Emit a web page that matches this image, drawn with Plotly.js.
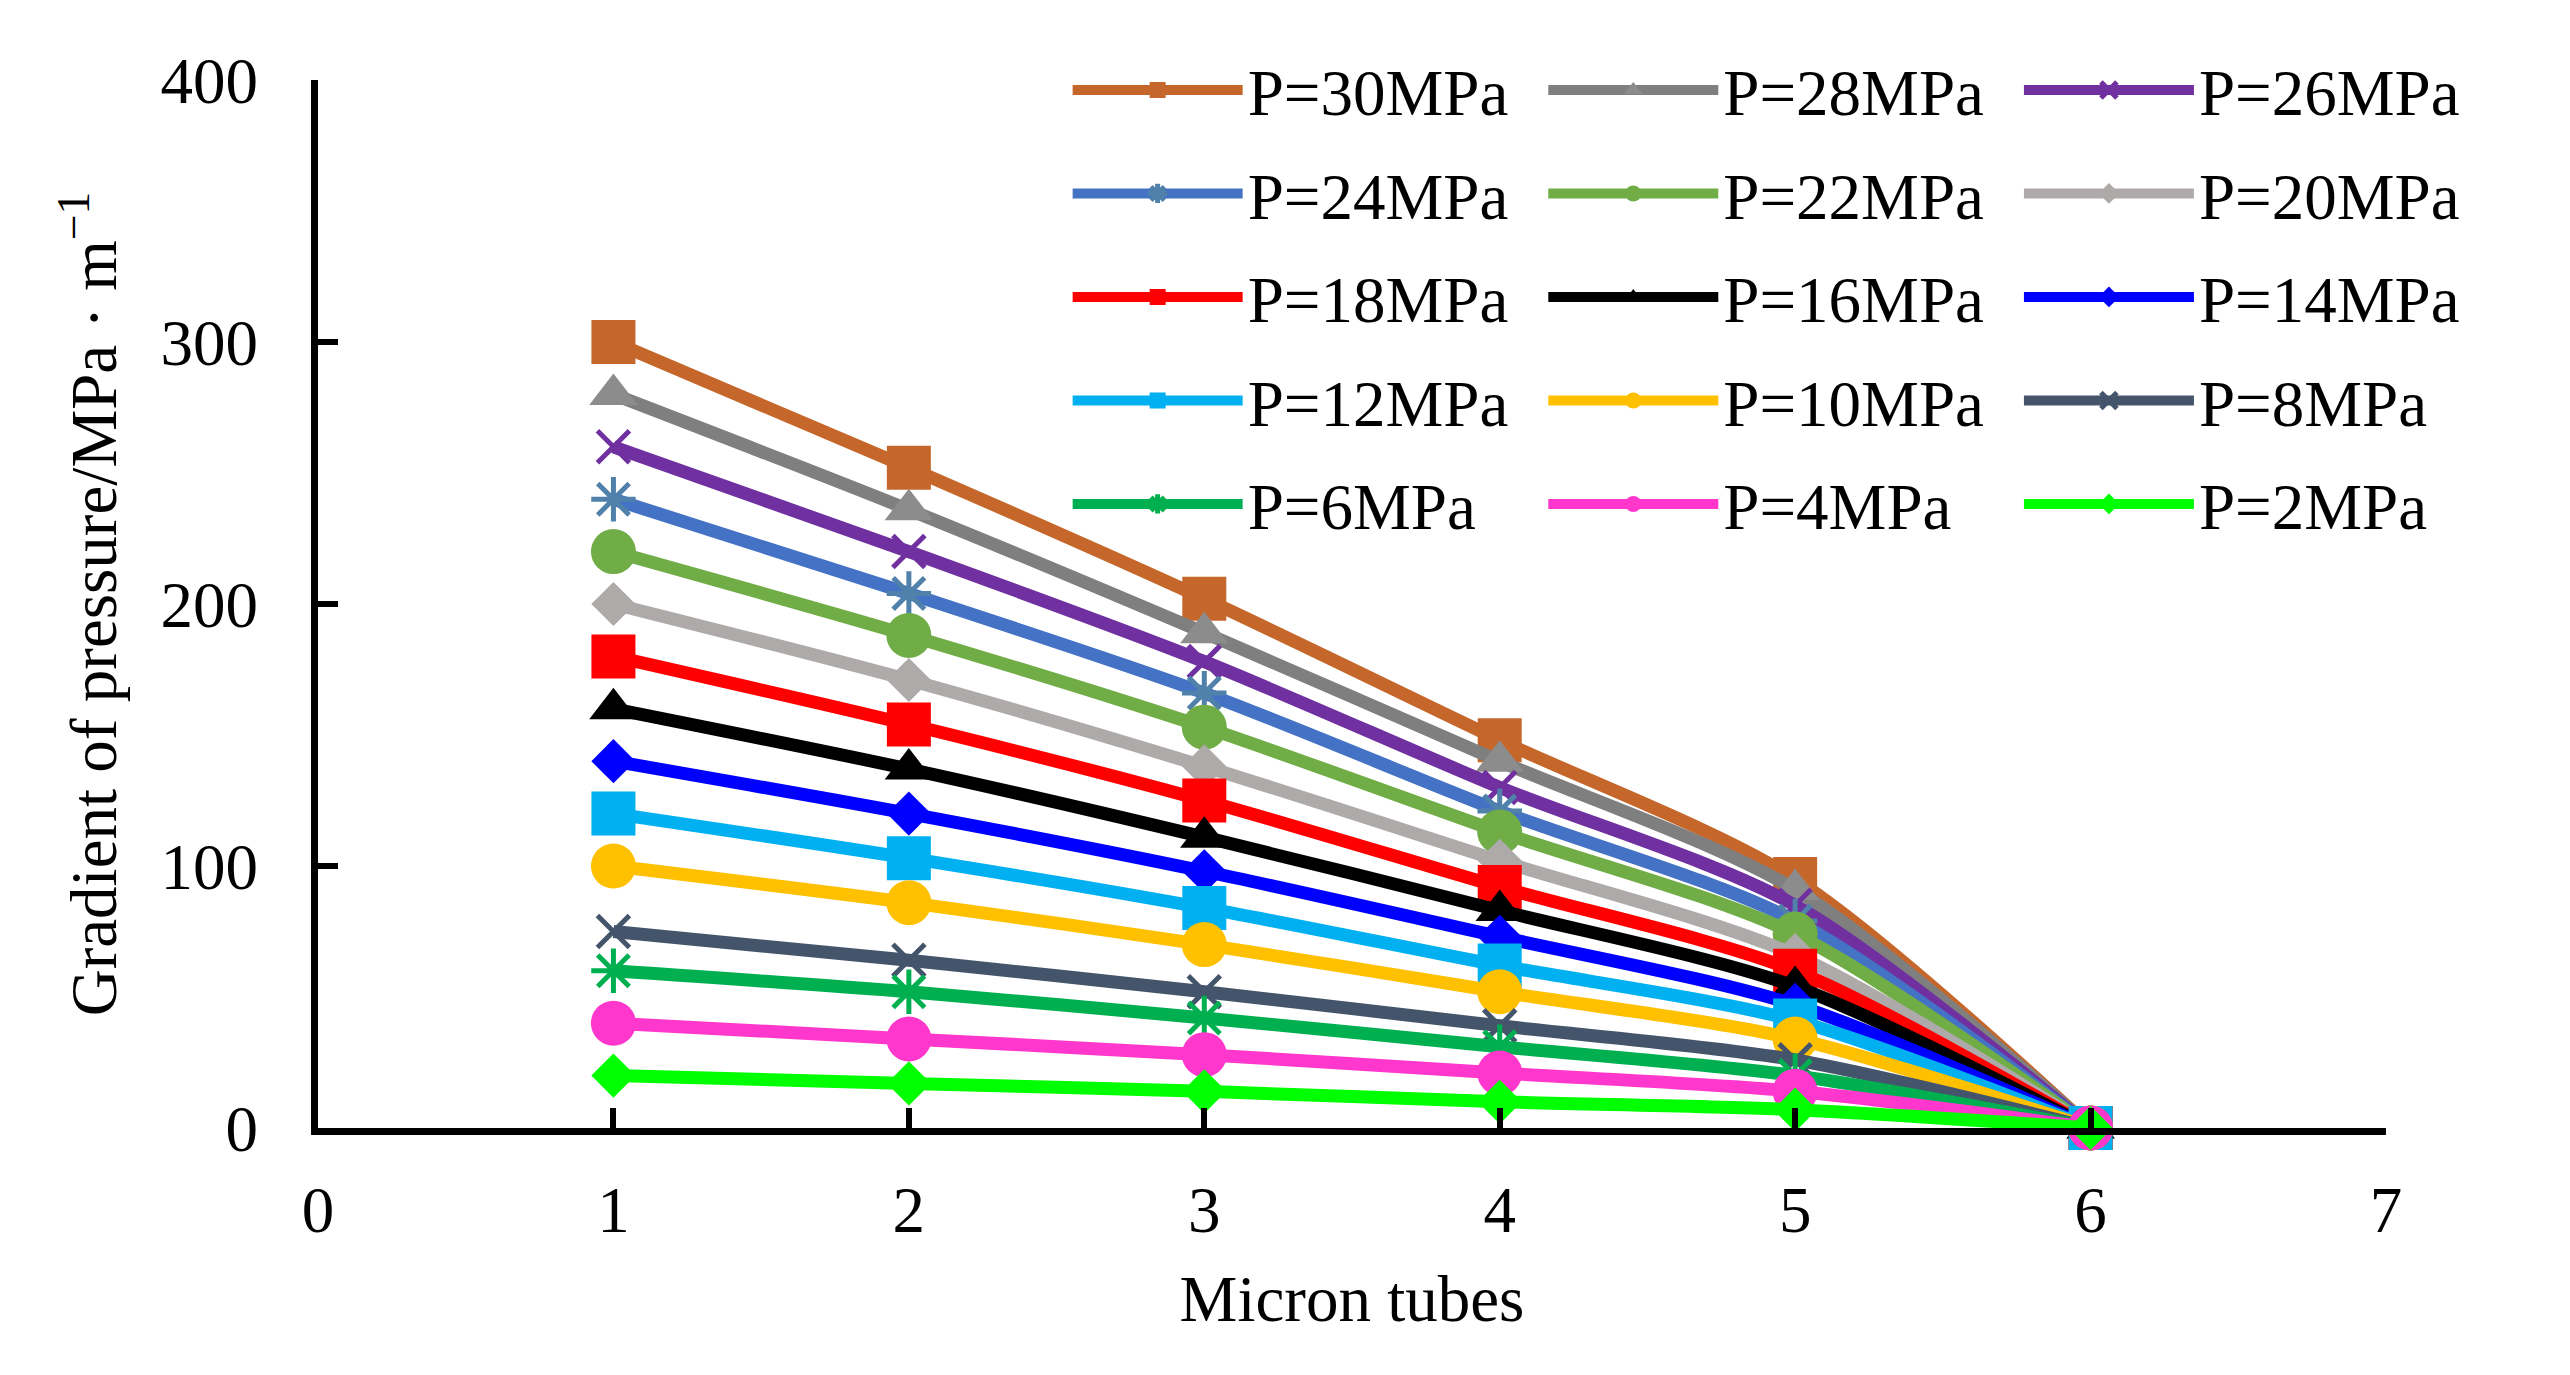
<!DOCTYPE html>
<html>
<head>
<meta charset="utf-8">
<script src="https://cdn.plot.ly/plotly-3.0.1.min.js"></script>
<style>html,body{margin:0;padding:0;background:#fff;}#chart{width:2570px;height:1375px;}</style>
</head>
<body>
<div id="chart"></div>
<script>
// Data
const tubes = [1, 2, 3, 4, 5, 6];
const xTicks = [0, 1, 2, 3, 4, 5, 6, 7];
const yTicks = [0, 100, 200, 300, 400];
const seriesNames = ['P=30MPa','P=28MPa','P=26MPa','P=24MPa','P=22MPa','P=20MPa','P=18MPa','P=16MPa','P=14MPa','P=12MPa','P=10MPa','P=8MPa','P=6MPa','P=4MPa','P=2MPa'];
const p30 = [300, 252, 202, 148, 95, 0];
const p28 = [280, 236, 189, 140, 91, 0];
const p26 = [260, 220, 178, 130, 85, 0];
const p24 = [240, 204, 166, 121, 79, 0];
const p22 = [220, 188, 153, 113, 74, 0];
const p20 = [200, 171, 138, 102, 66, 0];
const p18 = [180, 154, 125, 92, 60, 0];
const p16 = [160, 137, 111, 83, 54, 0];
const p14 = [140, 120, 98, 73, 47, 0];
const p12 = [120, 103, 84, 62, 41, 0];
const p10 = [100, 86, 70, 52, 34, 0];
const p8  = [75, 64, 52, 39, 26, 0];
const p6  = [60, 52, 42, 31, 20, 0];
const p4  = [40, 34, 28, 21, 14, 0];
const p2  = [20, 17, 14, 10, 7, 0];
const seriesValues = [p30, p28, p26, p24, p22, p20, p18, p16, p14, p12, p10, p8, p6, p4, p2];

// Styles
const lineColors   = ['#C5672B','#7F7F7F','#7030A0','#4472C4','#70AD47','#AEAAAA','#FF0000','#000000','#0000FF','#00B0F0','#FFC000','#44546A','#00B050','#FF37CC','#00FF00'];
const markerColors = ['#C5672B','#8C8C8C','#7030A0','#4F81AA','#70AD47','#AEAAAA','#FF0000','#000000','#0000FF','#00B0F0','#FFC000','#44546A','#00B050','#FF37CC','#00FF00'];
const symbols = ['square','triangle-up','x-thin-open','asterisk-open','circle','diamond','square','triangle-up','diamond','square','circle','x-thin-open','asterisk-open','circle','diamond'];
const sizes = {'square':44,'triangle-up':42,'x-thin-open':32,'asterisk-open':37,'circle':45,'diamond':34};
const legendIds = ['legend','legend2','legend3'];

const FONT = 'Liberation Serif, Times New Roman, serif';

const traces = seriesValues.map((vals, i) => {
  const sym = symbols[i];
  const open = sym.indexOf('open') >= 0;
  return {
    type: 'scatter',
    mode: 'lines+markers',
    name: seriesNames[i],
    x: tubes,
    y: vals,
    legend: legendIds[i % 3],
    legendgroup: 'g' + i,
    line: {color: lineColors[i], width: 13, shape: 'spline', smoothing: 0.8},
    marker: {
      symbol: sym,
      size: sizes[sym],
      color: markerColors[i],
      line: open ? {color: markerColors[i], width: 5} : {width: 0}
    },
    cliponaxis: false
  };
});

const legendBase = {
  orientation: 'v',
  traceorder: 'grouped',
  tracegroupgap: 16,
  itemwidth: 170,
  bgcolor: 'rgba(0,0,0,0)',
  font: {family: FONT, size: 65, color: '#000'},
  xanchor: 'left',
  yanchor: 'top',
  y: 1.037
};

const layout = {
  width: 2570,
  height: 1375,
  margin: {l: 318, r: 184, t: 80, b: 247, autoexpand: false},
  paper_bgcolor: '#fff',
  plot_bgcolor: '#fff',
  font: {family: FONT, size: 65, color: '#000'},
  showlegend: true,
  legend:  Object.assign({}, legendBase, {x: 0.3625}),
  legend2: Object.assign({}, legendBase, {x: 0.5925}),
  legend3: Object.assign({}, legendBase, {x: 0.8225}),
  xaxis: {
    range: [0, 7],
    tickvals: xTicks,
    ticktext: xTicks.map(String),
    showgrid: false,
    zeroline: false,
    showline: true,
    linecolor: '#000',
    linewidth: 7,
    ticks: 'inside',
    ticklen: 20,
    tickwidth: 6,
    tickcolor: '#000',
    ticklabelstandoff: 19,
    tickfont: {family: FONT, size: 65, color: '#000'},
    title: {text: 'Micron tubes', font: {family: FONT, size: 65, color: '#000'}, standoff: 33},
    automargin: false
  },
  yaxis: {
    range: [0, 400],
    tickvals: yTicks,
    ticktext: yTicks.map(String),
    showgrid: false,
    zeroline: false,
    showline: true,
    linecolor: '#000',
    linewidth: 7,
    ticks: 'inside',
    ticklen: 20,
    tickwidth: 6,
    tickcolor: '#000',
    ticklabelstandoff: 40,
    tickfont: {family: FONT, size: 65, color: '#000'},
    title: {text: 'Gradient of pressure/MPa · m<sup>−1</sup>', font: {family: FONT, size: 65, color: '#000'}, standoff: 25},
    automargin: false
  }
};

Plotly.newPlot('chart', traces, layout, {displayModeBar: false, staticPlot: true});
</script>
</body>
</html>
